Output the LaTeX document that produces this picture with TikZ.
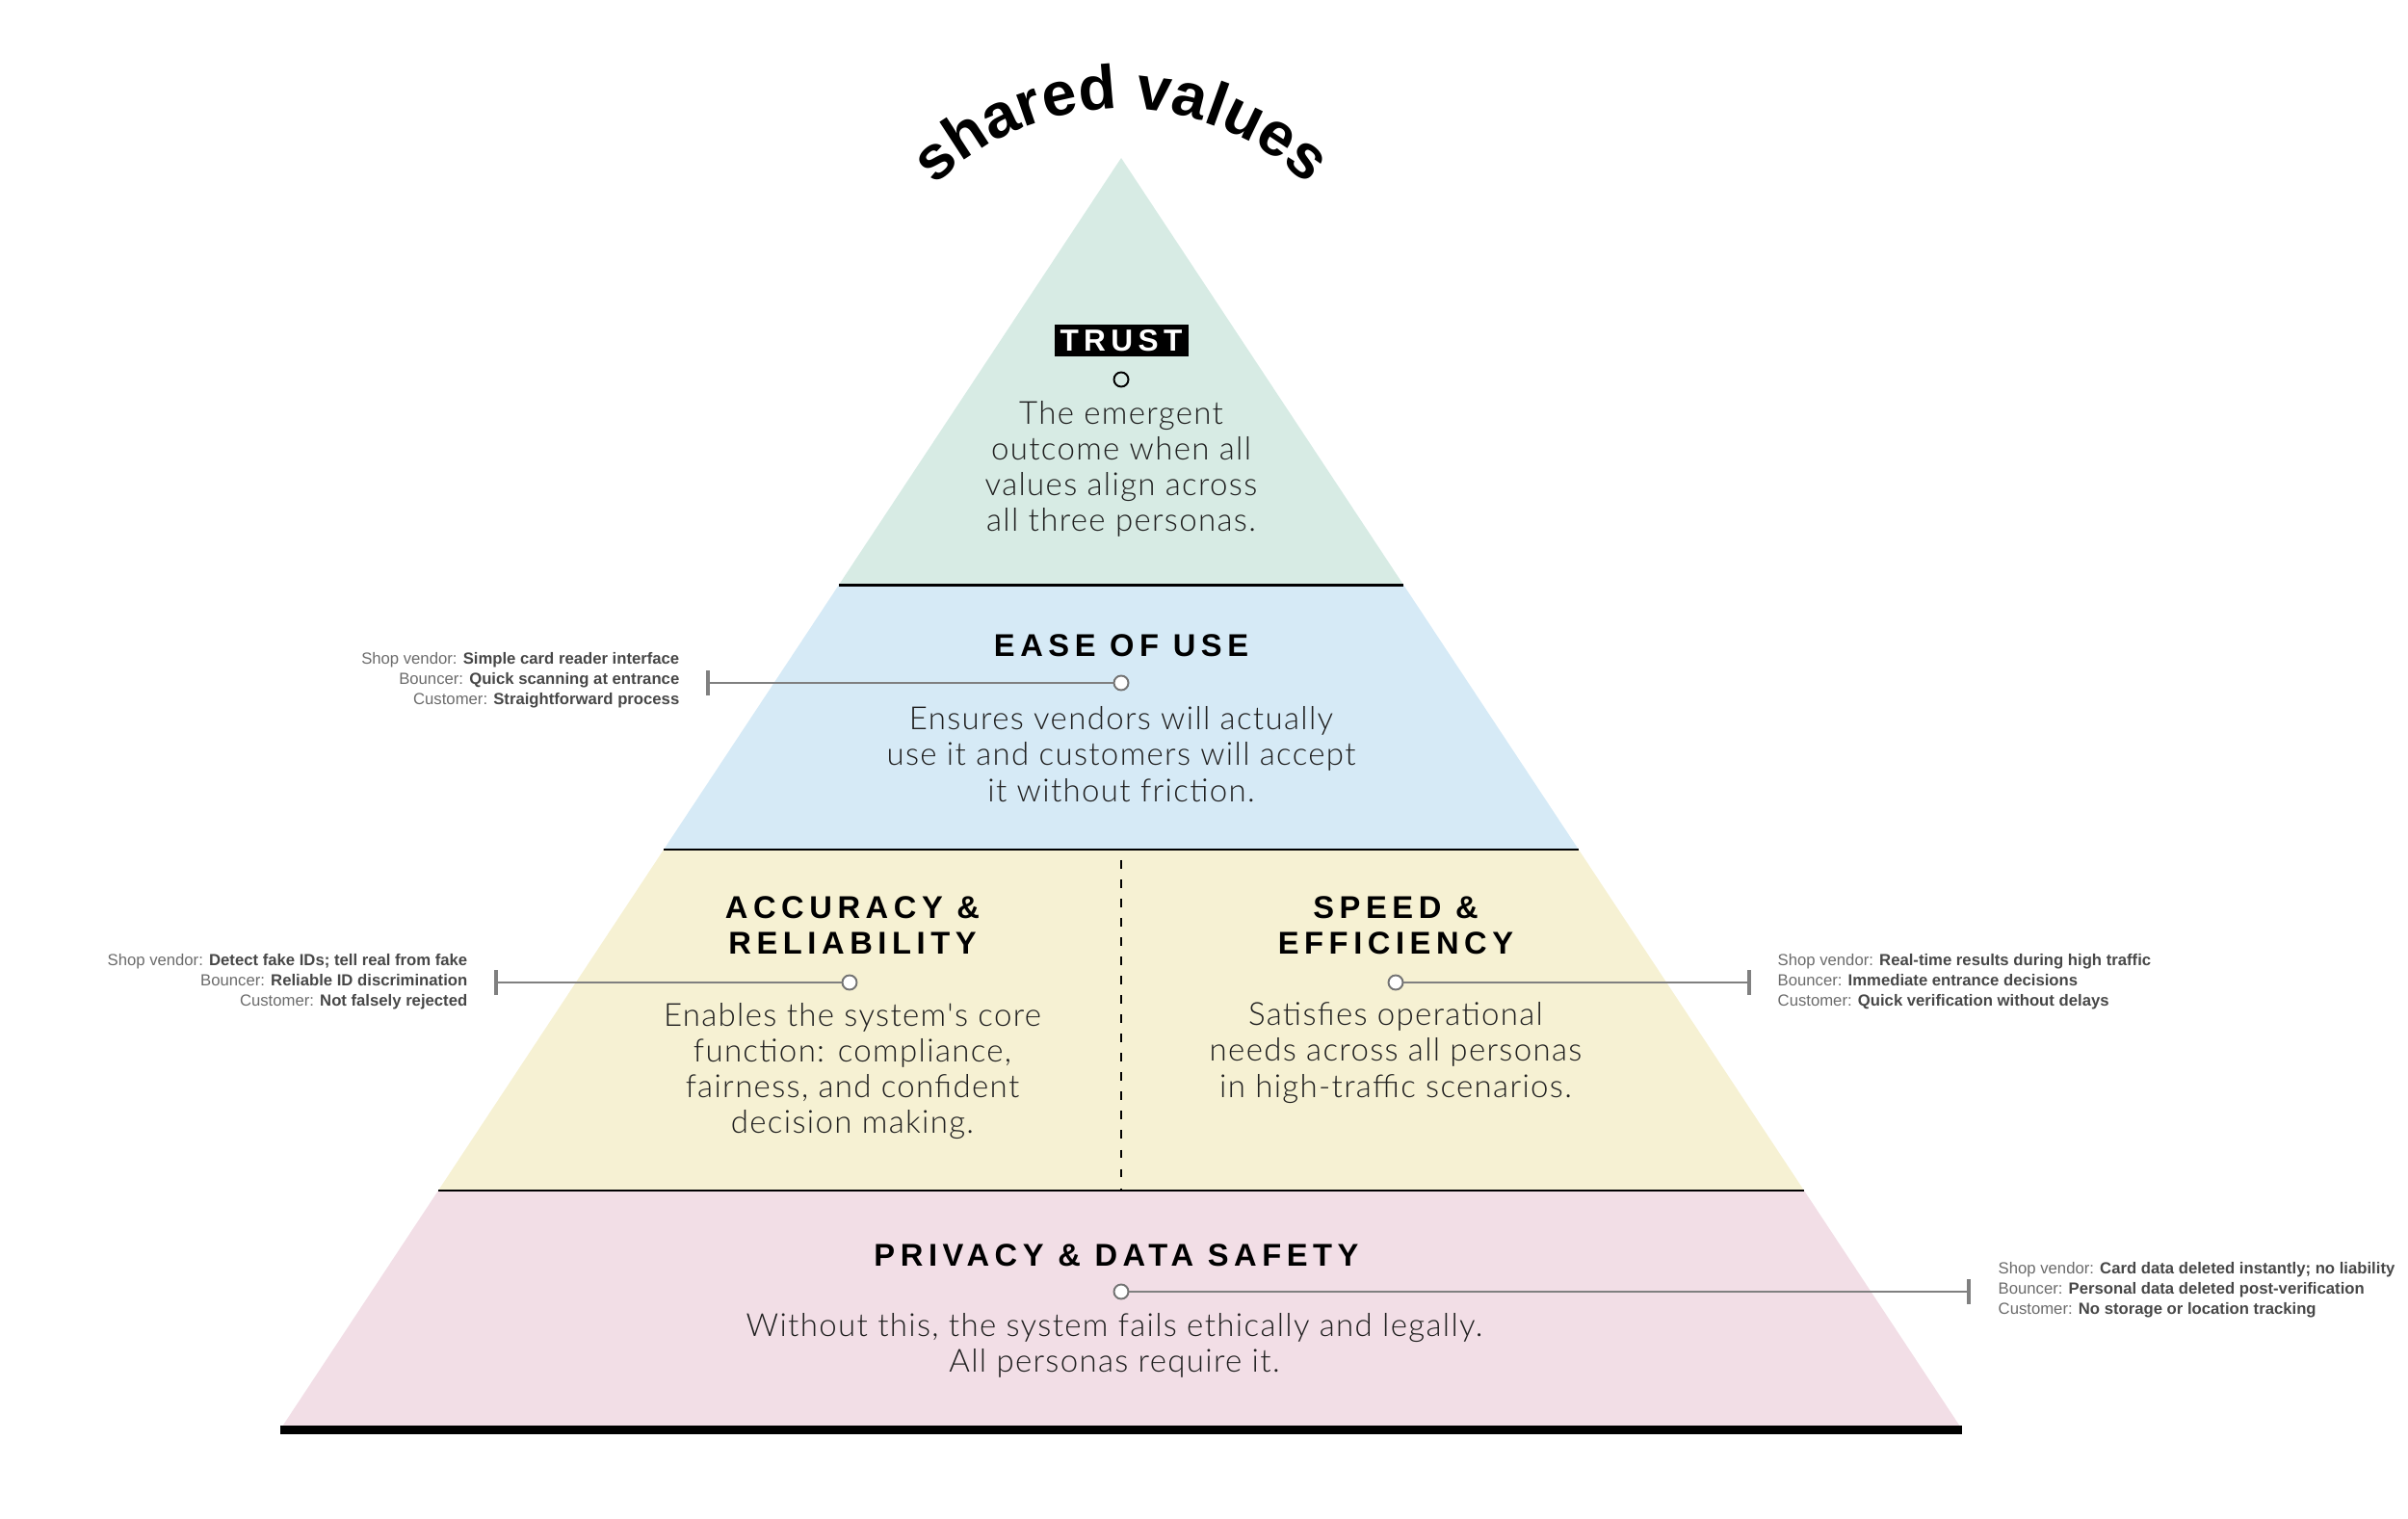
\documentclass[tikz,border=0pt]{standalone}
\usepackage{fontspec}
\setmainfont{Liberation Sans}
\newfontfamily\headfont[LetterSpace=17]{Liberation Sans}
\IfFontExistsTF{Lato Light}{\newfontfamily\bodyfont[LetterSpace=4]{Lato Light}}{\newfontfamily\bodyfont{Liberation Sans}}
\usetikzlibrary{decorations.text,arrows.meta}
\definecolor{trustfill}{HTML}{D7EBE4}
\definecolor{easefill}{HTML}{D6EAF6}
\definecolor{accfill}{HTML}{F6F1D3}
\definecolor{privfill}{HTML}{F2DEE6}
\newcommand\persona[2]{#1: \textbf{\color{black!72}#2}}
\begin{document}
\begin{tikzpicture}[
    sep/.style={line width=0.85pt},
    head/.style={font=\headfont\bfseries\fontsize{9.3}{10.5}\selectfont, align=center},
    body/.style={font=\bodyfont\fontsize{9.4}{10.6}\selectfont, align=center, text=black!88},
    dot/.style={circle, draw=black!55, fill=white, line width=0.55pt, minimum size=0.15cm, inner sep=0pt},
    conn/.style={draw=black!50, line width=0.55pt, -{Bar[width=0.26cm,line width=1.2pt]}},
    note/.style={font=\fontsize{4.75}{5.9}\selectfont, text=black!58, inner sep=0pt},
  ]
  \useasboundingbox (0,0) rectangle (25,-15.77);

  \fill[trustfill] (11.64,-1.64)--(14.573,-6.075)--(8.707,-6.075)--cycle;
  \fill[easefill] (8.707,-6.075)--(14.573,-6.075)--(16.389,-8.82)--(6.891,-8.82)--cycle;
  \fill[accfill] (6.891,-8.82)--(16.389,-8.82)--(18.73,-12.36)--(4.55,-12.36)--cycle;
  \fill[privfill] (4.55,-12.36)--(18.73,-12.36)--(20.37,-14.84)--(2.91,-14.84)--cycle;
  \draw[sep] (8.707,-6.075)--(14.573,-6.075);
  \draw[sep] (6.891,-8.82)--(16.389,-8.82);
  \draw[sep] (4.55,-12.36)--(18.73,-12.36);
  \draw[line width=2.55pt] (2.91,-14.845)--(20.37,-14.845);
  \draw[line width=0.45pt, dash pattern=on 2.5pt off 3.2pt] (11.64,-8.93)--(11.64,-12.36);

  \path[decorate, decoration={text along path, text align=center,
      text={|\bfseries\fontsize{18.3}{18.3}\selectfont|shared values}}]
    (11.64,-3.88) ++(155:2.75) arc (155:25:2.75);

  \node[fill=black, text=white, font=\headfont\bfseries\fontsize{9}{9}\selectfont,
        minimum width=1.39cm, minimum height=0.33cm, inner sep=0pt] (trust) at (11.64,-3.54) {TRUST};
  \node[dot, draw=black, fill=none] (trustdot) at (11.64,-3.94) {};
  \node[body] (trusttext) at (11.64,-4.87) {The emergent\\outcome when all\\values align across\\all three personas.};

  \node[head] (ease) at (11.64,-6.70) {EASE OF USE};
  \node[dot] (easedot) at (11.64,-7.09) {};
  \coordinate (easeend) at (7.33,-7.09);
  \draw[conn] (easedot) -- (easeend);
  \node[body] (easetext) at (11.64,-7.83) {Ensures vendors will actually\\use it and customers will accept\\it without friction.};
  \node[note, anchor=east, align=right] (easenote) at (7.06,-7.06)
    {\persona{Shop vendor}{Simple card reader interface}\\\persona{Bouncer}{Quick scanning at entrance}\\\persona{Customer}{Straightforward process}};

  \node[head] (acc) at (8.85,-9.605) {ACCURACY \&\\RELIABILITY};
  \node[dot] (accdot) at (8.82,-10.20) {};
  \coordinate (accend) at (5.13,-10.20);
  \draw[conn] (accdot) -- (accend);
  \node[body] (acctext) at (8.85,-11.12) {Enables the system's core\\function: compliance,\\fairness, and confident\\decision making.};
  \node[note, anchor=east, align=right] (accnote) at (4.86,-10.19)
    {\persona{Shop vendor}{Detect fake IDs; tell real from fake}\\\persona{Bouncer}{Reliable ID discrimination}\\\persona{Customer}{Not falsely rejected}};

  \node[head] (speed) at (14.49,-9.605) {SPEED \&\\EFFICIENCY};
  \node[dot] (speeddot) at (14.49,-10.20) {};
  \coordinate (speedend) at (18.18,-10.20);
  \draw[conn] (speeddot) -- (speedend);
  \node[body] (speedtext) at (14.49,-10.93) {Satisfies operational\\needs across all personas\\in high-traffic scenarios.};
  \node[note, anchor=west, align=left] (speednote) at (18.45,-10.19)
    {\persona{Shop vendor}{Real-time results during high traffic}\\\persona{Bouncer}{Immediate entrance decisions}\\\persona{Customer}{Quick verification without delays}};

  \node[head] (priv) at (11.59,-13.03) {PRIVACY \& DATA SAFETY};
  \node[dot] (privdot) at (11.64,-13.41) {};
  \coordinate (privend) at (20.46,-13.41);
  \draw[conn] (privdot) -- (privend);
  \node[body] (privtext) at (11.57,-13.97) {Without this, the system fails ethically and legally.\\All personas require it.};
  \node[note, anchor=west, align=left] (privnote) at (20.74,-13.39)
    {\persona{Shop vendor}{Card data deleted instantly; no liability}\\\persona{Bouncer}{Personal data deleted post-verification}\\\persona{Customer}{No storage or location tracking}};
\end{tikzpicture}
\end{document}
